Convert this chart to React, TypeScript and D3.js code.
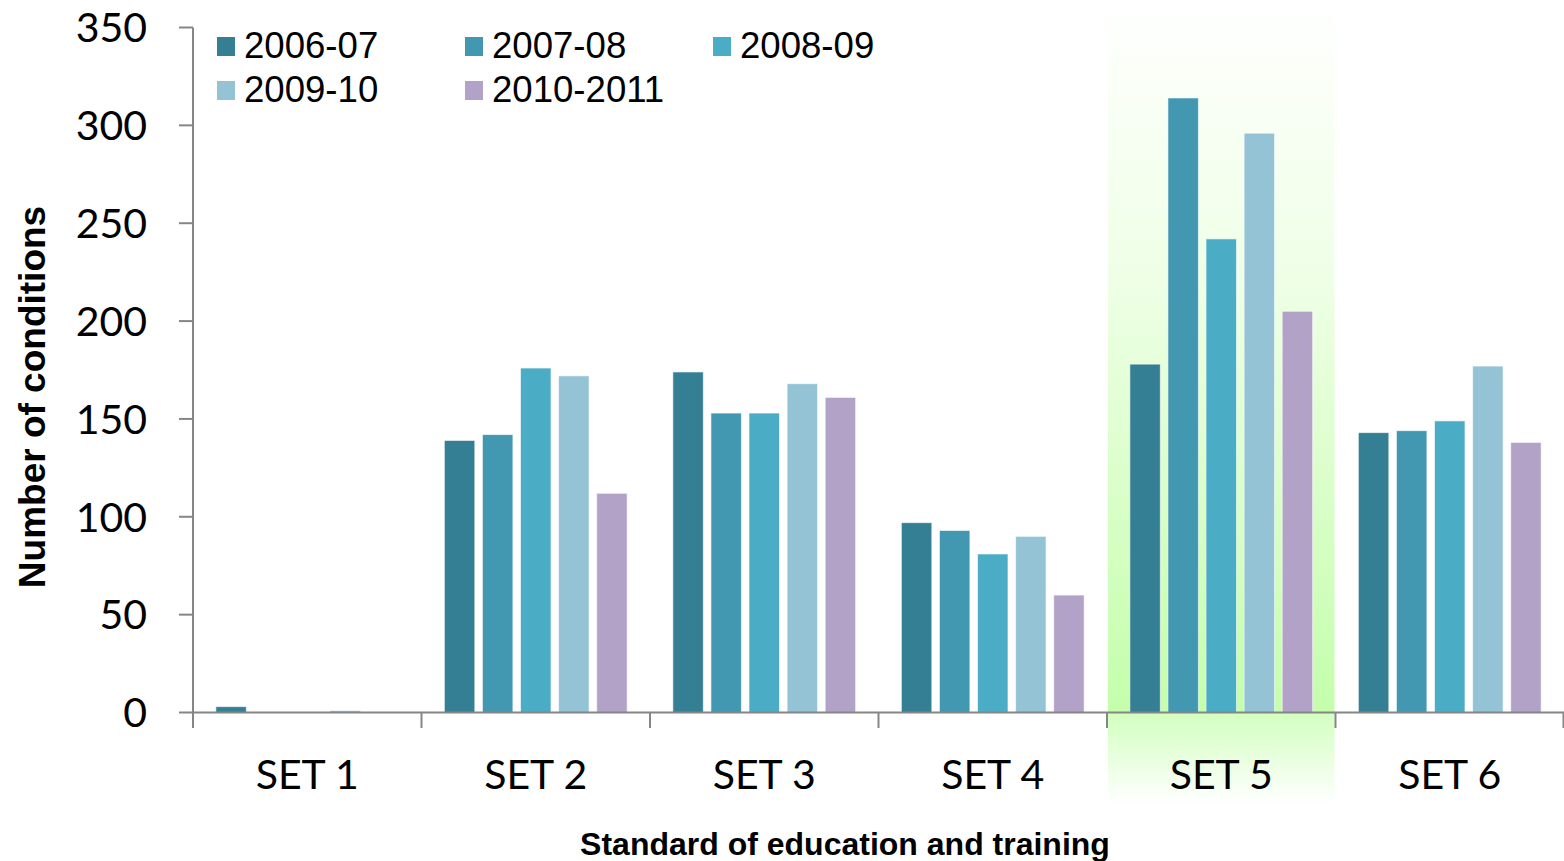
import React from "react";
import * as d3 from "d3";

const categories = ["SET 1", "SET 2", "SET 3", "SET 4", "SET 5", "SET 6"];
const seriesNames = ["2006-07", "2007-08", "2008-09", "2009-10", "2010-2011"];
const seriesColors = ["#357F94", "#4298B0", "#4BACC6", "#93C3D5", "#B3A2C7"];
const s2006 = [3, 139, 174, 97, 178, 143];
const s2007 = [0, 142, 153, 93, 314, 144];
const s2008 = [0, 176, 153, 81, 242, 149];
const s2009 = [1, 172, 168, 90, 296, 177];
const s2010 = [0, 112, 161, 60, 205, 138];
const seriesValues = [s2006, s2007, s2008, s2009, s2010];
const yTicks = [0, 50, 100, 150, 200, 250, 300, 350];
const highlighted = "SET 5";

const W = 1564;
const H = 861;
const left = 193;
const right = 1564;
const top = 27.5;
const bottom = 712.5;

export default function App() {
  const x = d3.scaleBand<string>().domain(categories).range([left, right]).padding(0);
  const y = d3.scaleLinear().domain([0, 350]).range([bottom, top]);
  const bw = x.bandwidth();
  const barW = bw / 7.5;
  const step = barW * 1.25;
  const clusterW = barW * 5 + barW * 0.25 * 4;

  const hx = x(highlighted)!;
  const fontTick = "Lato, 'Open Sans', sans-serif";
  const arial = "Arial, 'Liberation Sans', sans-serif";

  return (
    <svg width={W} height={H} style={{ position: "absolute", left: 0, top: 0, background: "#fff" }}>
      <defs>
        <linearGradient id="hlTop" x1="0" y1="0" x2="0" y2="1">
          <stop offset="0" stopColor="#fefffd" />
          <stop offset="0.35" stopColor="#f0ffe8" />
          <stop offset="1" stopColor="#c4feab" />
        </linearGradient>
        <linearGradient id="hlBot" x1="0" y1="0" x2="0" y2="1">
          <stop offset="0" stopColor="#d2ffbf" />
          <stop offset="1" stopColor="#ffffff" />
        </linearGradient>
      </defs>
      <rect x={hx + 1} y={16} width={bw - 2} height={bottom - 16} fill="url(#hlTop)" />
      <rect x={hx + 1} y={bottom} width={bw - 2} height={804 - bottom} fill="url(#hlBot)" />

      {seriesValues.map((vals, si) =>
        categories.map((c, ci) => {
          const x0 = x(c)! + (bw - clusterW) / 2 + si * step;
          const v = vals[ci];
          if (v <= 0) return null;
          return (
            <rect
              key={`${si}-${ci}`}
              x={x0}
              y={y(v)}
              width={barW}
              height={bottom - y(v)}
              fill={seriesColors[si]}
              stroke="#ffffff"
              strokeOpacity={0.6}
              strokeWidth={1}
            />
          );
        })
      )}

      {/* axes */}
      <line x1={left} x2={left} y1={top} y2={bottom} stroke="#868686" strokeWidth={2} />
      <line x1={left} x2={right} y1={bottom} y2={bottom} stroke="#868686" strokeWidth={2} />
      {yTicks.map((t) => (
        <g key={t}>
          <line x1={left - 14} x2={left} y1={y(t)} y2={y(t)} stroke="#868686" strokeWidth={2} />
          <text x={147} y={y(t)} dy="0.36em" textAnchor="end" fontFamily={fontTick} fontSize={41} fill="#000">
            {t}
          </text>
        </g>
      ))}
      {categories.map((c) => (
        <line key={c} x1={x(c)!} x2={x(c)!} y1={bottom} y2={728} stroke="#868686" strokeWidth={2} />
      ))}
      <line x1={right - 0.5} x2={right - 0.5} y1={bottom} y2={728} stroke="#868686" strokeWidth={2} />
      {categories.map((c) => (
        <text key={c} x={x(c)! + bw / 2} y={789} textAnchor="middle" fontFamily={fontTick} fontSize={41} fill="#000">
          {c}
        </text>
      ))}

      {/* legend */}
      {seriesNames.map((n, i) => {
        const col = i < 3 ? i : i - 3;
        const row = i < 3 ? 0 : 1;
        const lx = 217 + col * 248;
        const ly = 37 + row * 44;
        return (
          <g key={n}>
            <rect x={lx} y={ly} width={18} height={19} fill={seriesColors[i]} />
            <text x={lx + 27} y={ly + 21} fontFamily={arial} fontSize={36.6} fill="#000">
              {n}
            </text>
          </g>
        );
      })}

      {/* titles */}
      <text
        transform={`translate(45, 397) rotate(-90)`}
        textAnchor="middle"
        fontFamily={arial}
        fontWeight="bold"
        fontSize={37}
        fill="#000"
      >
        Number of conditions
      </text>
      <text x={845} y={855} textAnchor="middle" fontFamily={arial} fontWeight="bold" fontSize={32} fill="#000">
        Standard of education and training
      </text>
    </svg>
  );
}
